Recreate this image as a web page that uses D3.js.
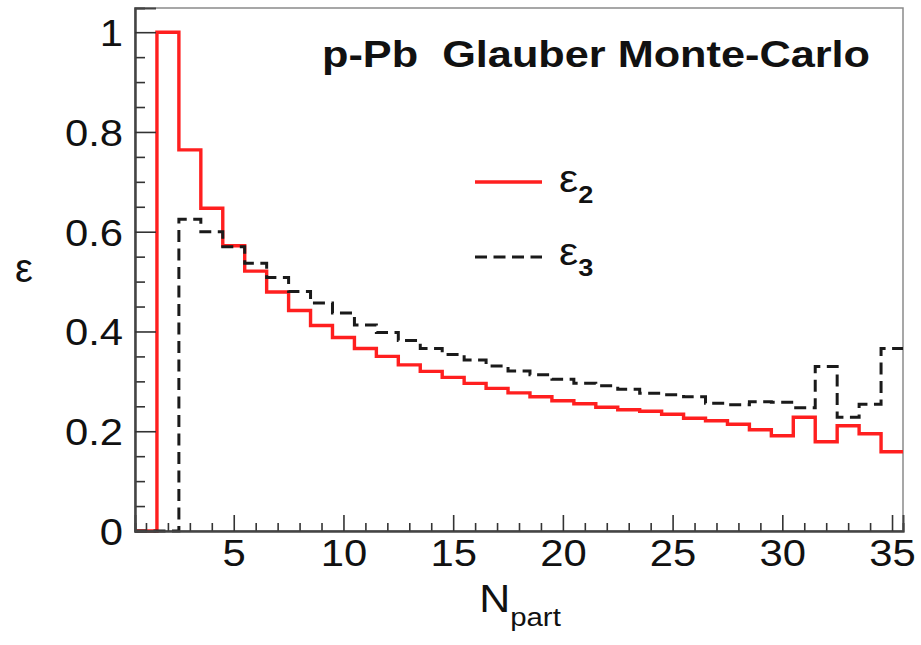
<!DOCTYPE html>
<html>
<head>
<meta charset="utf-8">
<script src="https://cdn.jsdelivr.net/npm/d3@7"></script>
<style>
  html, body { margin: 0; padding: 0; background: #fff; }
  svg { display: block; }
  text { font-family: "Liberation Sans", Arial, Helvetica, sans-serif; fill: #111; }
</style>
</head>
<body>
<svg id="chart" width="921" height="645"></svg>
<script>
// Number of participants (bin centres, bin width 1)
const nPart = d3.range(1, 36);

// Mean eccentricities per N_part bin
const eps2 = [0.000, 1.000, 0.764, 0.647, 0.572, 0.521, 0.479, 0.442, 0.412, 0.388,
              0.366, 0.350, 0.333, 0.320, 0.308, 0.296, 0.286, 0.277, 0.269, 0.261,
              0.255, 0.248, 0.243, 0.240, 0.234, 0.226, 0.221, 0.214, 0.203, 0.191,
              0.228, 0.179, 0.211, 0.195, 0.159];
const eps3 = [0.000, 0.000, 0.625, 0.600, 0.570, 0.537, 0.508, 0.480, 0.457, 0.437,
              0.413, 0.398, 0.382, 0.366, 0.354, 0.343, 0.331, 0.321, 0.313, 0.304,
              0.296, 0.291, 0.284, 0.276, 0.273, 0.269, 0.256, 0.253, 0.259, 0.258,
              0.247, 0.330, 0.228, 0.254, 0.366];

const xTicks = [5, 10, 15, 20, 25, 30, 35];
const yTicks = [0, 0.2, 0.4, 0.6, 0.8, 1];
const yTickLabels = ["0", "0.2", "0.4", "0.6", "0.8", "1"];

const seriesNames = ["ε", "ε"];
const seriesSubs = ["2", "3"];
const titleText = "p-Pb\u00A0\u00A0Glauber Monte-Carlo";

const svg = d3.select("#chart");
const frame = { left: 135, right: 903, top: 8, bottom: 531 };

const x = d3.scaleLinear().domain([0.5, 35.5]).range([frame.left, frame.right]);
const y = d3.scaleLinear().domain([0, 1.0485]).range([frame.bottom, frame.top]);

// Stretch text horizontally by factor k (the typeface is set a little wide)
function widen(sel, k) {
  sel.each(function () {
    const w = this.getComputedTextLength();
    d3.select(this).attr("textLength", w * k).attr("lengthAdjust", "spacingAndGlyphs");
  });
}
const WIDE = 1.13;

// Frame
svg.append("rect")
  .attr("x", frame.left).attr("y", frame.top)
  .attr("width", frame.right - frame.left).attr("height", frame.bottom - frame.top)
  .attr("fill", "none").attr("stroke", "#8a8a8a").attr("stroke-width", 1.5);

// Histogram outlines (step at bin edges, no drop at the last edge)
function histPoints(vals) {
  const pts = vals.map((v, i) => [nPart[i] - 0.5, v]);
  pts.push([nPart[nPart.length - 1] + 0.5, vals[vals.length - 1]]);
  return pts;
}
const step = d3.line().x(d => x(d[0])).y(d => y(d[1])).curve(d3.curveStepAfter);

svg.append("path")
  .attr("d", step(histPoints(eps2)))
  .attr("fill", "none").attr("stroke", "#ff1f1f").attr("stroke-width", 3.4);

svg.append("path")
  .attr("d", step(histPoints(eps3)))
  .attr("fill", "none").attr("stroke", "#1a1a1a").attr("stroke-width", 3)
  .attr("stroke-dasharray", "12,6.5");

// Y axis: major and minor ticks pointing inwards
const yMinor = d3.range(0, 1.0001, 0.05).filter(v => !yTicks.some(t => Math.abs(t - v) < 1e-6));
const yAxisMinor = svg.append("g").attr("transform", `translate(${frame.left},0)`)
  .call(d3.axisLeft(y).tickValues(yMinor).tickSize(-10).tickFormat(""));
const yAxis = svg.append("g").attr("transform", `translate(${frame.left},0)`)
  .call(d3.axisLeft(y).tickValues(yTicks).tickSize(-21).tickPadding(12)
        .tickFormat((d, i) => yTickLabels[i]));

// X axis: major and minor ticks pointing inwards
const xMinor = nPart.filter(v => !xTicks.includes(v));
const xAxisMinor = svg.append("g").attr("transform", `translate(0,${frame.bottom})`)
  .call(d3.axisBottom(x).tickValues(xMinor).tickSize(-8).tickFormat(""));
const xAxis = svg.append("g").attr("transform", `translate(0,${frame.bottom})`)
  .call(d3.axisBottom(x).tickValues(xTicks).tickSize(-16).tickPadding(8));

[yAxisMinor, yAxis, xAxisMinor, xAxis].forEach(g => {
  g.select(".domain").attr("stroke", "#444").attr("stroke-width", 2);
  g.selectAll(".tick line").attr("stroke", "#333").attr("stroke-width", 1.6);
});

yAxis.selectAll(".tick text")
  .attr("font-size", 37).attr("fill", "#111").attr("dy", "0.36em");
widen(yAxis.selectAll(".tick text"), WIDE);
xAxis.selectAll(".tick text")
  .attr("font-size", 37).attr("fill", "#111").attr("dy", "0.72em");
widen(xAxis.selectAll(".tick text"), WIDE);

// Axis titles
const yTitle = svg.append("text").attr("x", 24).attr("y", 282)
  .attr("text-anchor", "middle").attr("font-size", 40).text("ε");

const xTitle = svg.append("text").attr("x", 520).attr("y", 612)
  .attr("text-anchor", "middle").attr("font-size", 38);
xTitle.append("tspan").text("N");
xTitle.append("tspan").attr("font-size", 26).attr("dy", 14).text("part");
widen(xTitle, WIDE);

// Title
svg.append("text").attr("x", 322).attr("y", 67)
  .attr("font-size", 36).attr("font-weight", "bold")
  .attr("textLength", 548).attr("lengthAdjust", "spacingAndGlyphs")
  .text(titleText);

// Legend
const legend = [
  { y: 182, color: "#ff1f1f", dash: null, width: 3.4, base: 192 },
  { y: 257, color: "#1a1a1a", dash: "12,6.5", width: 3, base: 265 }
];
legend.forEach((d, i) => {
  svg.append("line")
    .attr("x1", 475).attr("x2", 542).attr("y1", d.y).attr("y2", d.y)
    .attr("stroke", d.color).attr("stroke-width", d.width)
    .attr("stroke-dasharray", d.dash);
  const t = svg.append("text").attr("x", 559).attr("y", d.base).attr("font-size", 38);
  t.append("tspan").text(seriesNames[i]);
  t.append("tspan").attr("font-size", 24).attr("font-weight", "bold").attr("dy", 11).text(seriesSubs[i]);
  widen(t, WIDE);
});
</script>
</body>
</html>
